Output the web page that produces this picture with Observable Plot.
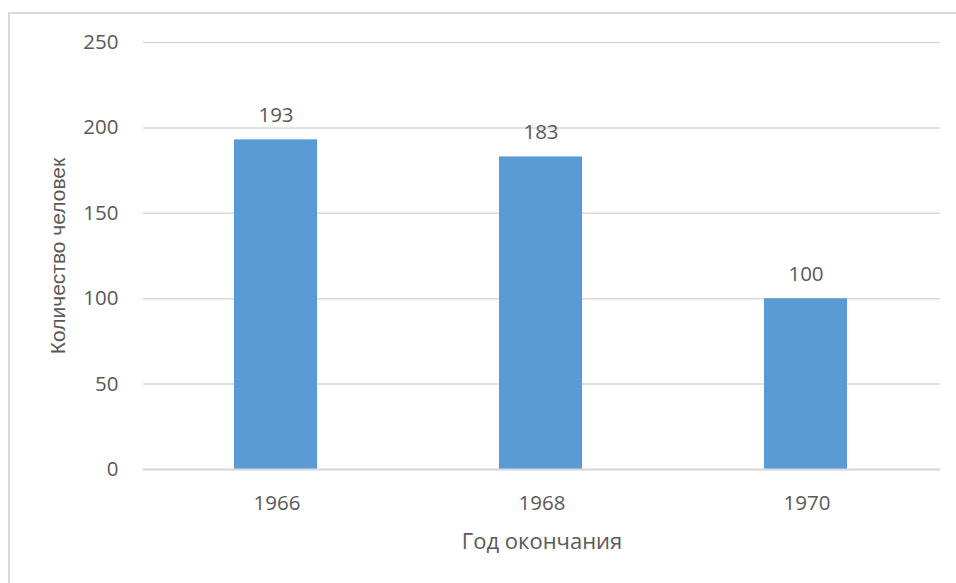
<!DOCTYPE html>
<html>
<head>
<meta charset="utf-8">
<script src="https://cdn.jsdelivr.net/npm/d3@7"></script>
<script src="https://cdn.jsdelivr.net/npm/@observablehq/plot@0.6"></script>
<style>
  html, body { margin: 0; padding: 0; background: #fff; overflow: hidden; }
  #wrap { position: relative; width: 956px; height: 583px; }
  #border { position: absolute; left: 8px; top: 12px; right: -10px; bottom: -10px;
            border-left: 2px solid #d9d9d9; border-top: 2px solid #d9d9d9; pointer-events: none; }
  #chart { position: absolute; left: 0; top: 0; }
</style>
</head>
<body>
<div id="wrap"><div id="border"></div><div id="chart"></div></div>
<script>
const years = ["1966", "1968", "1970"];
const counts = [193, 183, 100];
const yTicks = [0, 50, 100, 150, 200, 250];
const xTitle = "Год окончания";
const yTitle = "Количество человек";

const data = years.map((y, i) => ({year: y, count: counts[i]}));
const txt = "#595959";

const chart = Plot.plot({
  width: 956,
  height: 583,
  marginLeft: 143,
  marginRight: 16,
  marginTop: 42,
  marginBottom: 114,
  style: {fontFamily: "'Open Sans', sans-serif", fontSize: "20px", color: txt, background: "transparent", overflow: "visible"},
  x: {domain: years, paddingInner: 0.688, paddingOuter: 0.344, label: null},
  y: {domain: [0, 250], label: null},
  marks: [
    Plot.gridY(yTicks, {stroke: "#d9d9d9", strokeOpacity: 1, strokeWidth: 1.5}),
    Plot.barY(data, {x: "year", y: "count", fill: "#5b9bd5", dx: -1}),
    Plot.ruleY([0], {stroke: "#d9d9d9", strokeWidth: 2}),
    Plot.axisY(yTicks, {tickSize: 0, tickPadding: 25, fontSize: 20.5, fill: txt, label: null}),
    Plot.axisX({tickSize: 0, tickPadding: 26, fontSize: 20.5, fill: txt, label: null}),
    Plot.text(data, {x: "year", y: "count", text: d => String(d.count), dy: -24, dx: -1, fontSize: 20.5, fill: txt, lineAnchor: "middle"}),
    Plot.text([xTitle], {frameAnchor: "bottom", dy: 72, fontSize: 22, fill: txt, lineAnchor: "middle", textAnchor: "middle"}),
    Plot.text([yTitle], {frameAnchor: "left", dx: -85, rotate: -90, fontSize: 21, fill: txt, lineAnchor: "middle", textAnchor: "middle", fontFamily: "'Liberation Sans', Arial, sans-serif"})
  ]
});
document.getElementById("chart").appendChild(chart);
</script>
</body>
</html>
